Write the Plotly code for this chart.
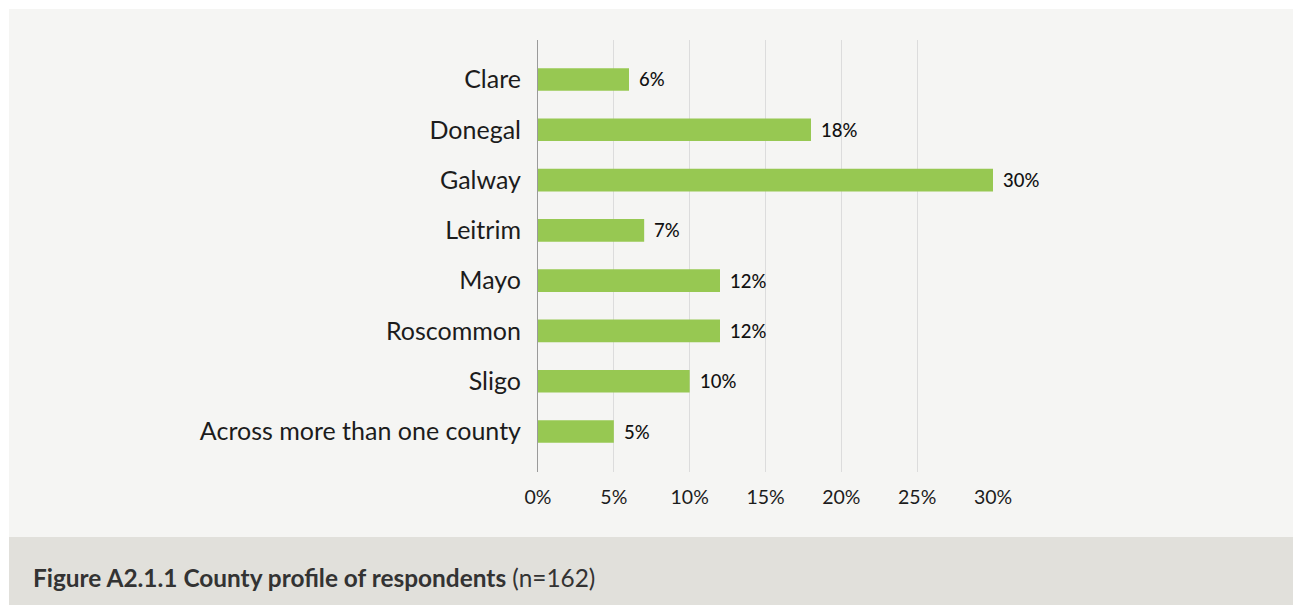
import plotly.graph_objects as go

# County profile of respondents (share of respondents, %)
counties = ["Clare", "Donegal", "Galway", "Leitrim", "Mayo",
            "Roscommon", "Sligo", "Across more than one county"]
shares = [6, 18, 30, 7, 12, 12, 10, 5]
x_ticks = [0, 5, 10, 15, 20, 25, 30]
x_tick_labels = ["0%", "5%", "10%", "15%", "20%", "25%", "30%"]

caption_bold = "Figure A2.1.1 County profile of respondents"
caption_rest = " (n=162)"

W, H = 1293, 605
ML, MR, MT, MB = 538, 300, 40, 133
PW, PH = W - ML - MR, H - MT - MB

BAR = "#97c852"
PANEL = "#f5f5f3"
BAND = "#e1e0db"
TEXT = "#1c1c1c"
FONT = "Lato, 'Open Sans', sans-serif"


def px_x(px):
    return (px - ML) / PW


def px_y(py):
    return (H - MB - py) / PH


fig = go.Figure(
    go.Bar(
        x=shares,
        y=counties,
        orientation="h",
        marker=dict(color=BAR, line=dict(width=0)),
        hoverinfo="skip",
    )
)

for c, v in zip(counties, shares):
    fig.add_annotation(
        x=v, y=c, xref="x", yref="y",
        text=f"{v}%", showarrow=False,
        xanchor="left", yanchor="middle", xshift=8,
        font=dict(family=FONT, size=18.5, color="#111111", weight=500),
    )

# background panel and caption band
fig.add_shape(type="rect", xref="paper", yref="paper", layer="below",
              x0=px_x(9), x1=px_x(W), y0=px_y(537), y1=px_y(9),
              fillcolor=PANEL, line=dict(width=0))
fig.add_shape(type="rect", xref="paper", yref="paper", layer="below",
              x0=px_x(9), x1=px_x(W), y0=px_y(H), y1=px_y(537),
              fillcolor=BAND, line=dict(width=0))

fig.add_annotation(
    xref="paper", yref="paper", x=px_x(31), y=px_y(577),
    xanchor="left", yanchor="middle", showarrow=False,
    text=f"<b>{caption_bold}</b>{caption_rest}",
    font=dict(family=FONT, size=24.4, color="#333333"),
)

fig.update_layout(
    width=W, height=H,
    margin=dict(l=ML, r=MR, t=MT, b=MB, pad=0),
    paper_bgcolor="white",
    plot_bgcolor="rgba(0,0,0,0)",
    bargap=0.55,
    showlegend=False,
    font=dict(family=FONT, color=TEXT),
    xaxis=dict(
        range=[0, 30],
        tickvals=x_ticks,
        ticktext=x_tick_labels,
        showgrid=True, gridcolor="#dcdcdc", gridwidth=1,
        zeroline=False, showline=False,
        ticks="outside", ticklen=8, tickcolor="rgba(0,0,0,0)",
        tickfont=dict(family=FONT, size=19.5, color=TEXT),
        fixedrange=True,
    ),
    yaxis=dict(
        type="category",
        categoryorder="array", categoryarray=counties,
        range=[7.805, -0.785],
        showgrid=False, zeroline=False,
        showline=True, linecolor="#9a9a9a", linewidth=1,
        ticks="outside", ticklen=11, tickcolor="rgba(0,0,0,0)",
        tickfont=dict(family=FONT, size=25, color=TEXT),
        fixedrange=True,
    ),
)

fig.write_html("out.html")
